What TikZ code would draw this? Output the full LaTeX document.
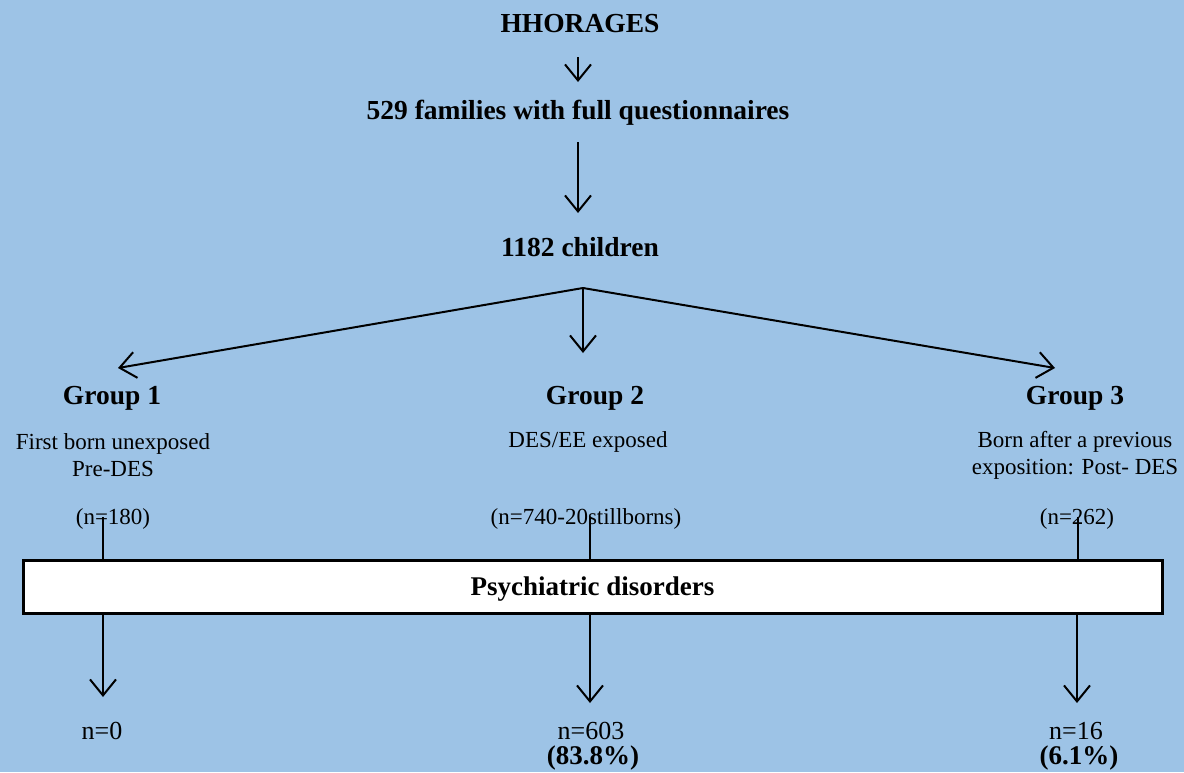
\documentclass[tikz,border=0pt]{standalone}
\usepackage{fontspec}
\setmainfont{Liberation Serif}
\usetikzlibrary{arrows.meta}
\definecolor{bgblue}{RGB}{157,195,230}
\tikzset{
  bigbold/.style={font=\fontsize{27.5}{30}\selectfont\bfseries, inner sep=0pt},
  detail/.style={font=\fontsize{23}{27}\selectfont, align=center, inner sep=0pt},
  bottomtxt/.style={font=\fontsize{26}{29}\selectfont, inner sep=0pt},
  bottombold/.style={font=\fontsize{27}{30}\selectfont\bfseries, inner sep=0pt},
  conn/.style={line width=2pt, -{Straight Barb[length=16pt,width=26pt,line width=2pt]}},
  plain/.style={line width=2pt},
  boxstyle/.style={draw, fill=white, line width=3pt, minimum width=1139pt, minimum height=53pt, inner sep=0pt, text depth=0pt, font=\fontsize{27}{30}\selectfont\bfseries}
}
\begin{document}
\begin{tikzpicture}[x=1pt,y=-1pt]
\fill[bgblue] (0,0) rectangle (1184,772);
\useasboundingbox (0,0) rectangle (1184,772);

\node[bigbold] (hh) at (580,24) {HHORAGES};
\node[bigbold] (fam) at (578,113) {529 families with full questionnaires};
\node[bigbold] (ch) at (580,247) {1182 children};

\coordinate (a1s) at (578,57);
\coordinate (a1e) at (578,82);
\draw[conn] (a1s) -- (a1e);
\coordinate (a2s) at (578,142);
\coordinate (a2e) at (578,213);
\draw[conn] (a2s) -- (a2e);

\coordinate (split) at (583,288);
\coordinate (gl) at (118,368);
\coordinate (gr) at (1055,368);
\coordinate (gm) at (583,353);
\draw[conn] (split) -- (gl);
\draw[conn] (split) -- (gr);
\draw[conn] (split) -- (gm);

\node[bigbold] (g1) at (112,398) {Group 1};
\node[bigbold] (g2) at (595,398) {Group 2};
\node[bigbold] (g3) at (1075,398) {Group 3};

\node[detail] (d1) at (113,455) {First born unexposed\\Pre-DES};
\node[detail] (d2) at (588,442) {DES/EE exposed};
\node[detail] (d3) at (1075,455) {Born after a previous\\exposition: Post- DES};

\node[detail] (n1) at (113,519) {(n=180)};
\node[detail] (n2) at (586,519) {(n=740-20stillborns)};
\node[detail] (n3) at (1077,519) {(n=262)};

\node[boxstyle] (box) at (592.5,586.5) {Psychiatric disorders};

\coordinate (v1) at (103,517);
\coordinate (v2) at (590,517);
\coordinate (v3) at (1078,517);
\draw[plain] (v1) -- (v1 |- box.north);
\draw[plain] (v2) -- (v2 |- box.north);
\draw[plain] (v3) -- (v3 |- box.north);

\coordinate (e1) at (103,697);
\coordinate (e2) at (590,703);
\coordinate (e3) at (1077,703);
\draw[conn] (e1 |- box.south) -- (e1);
\draw[conn] (e2 |- box.south) -- (e2);
\draw[conn] (e3 |- box.south) -- (e3);

\node[bottomtxt] (r1) at (102,731) {n=0};
\node[bottomtxt] (r2) at (591,731) {n=603};
\node[bottombold] (p2) at (593,758) {(83.8\%)};
\node[bottomtxt] (r3) at (1076,731) {n=16};
\node[bottombold] (p3) at (1079,758) {(6.1\%)};
\end{tikzpicture}
\end{document}
